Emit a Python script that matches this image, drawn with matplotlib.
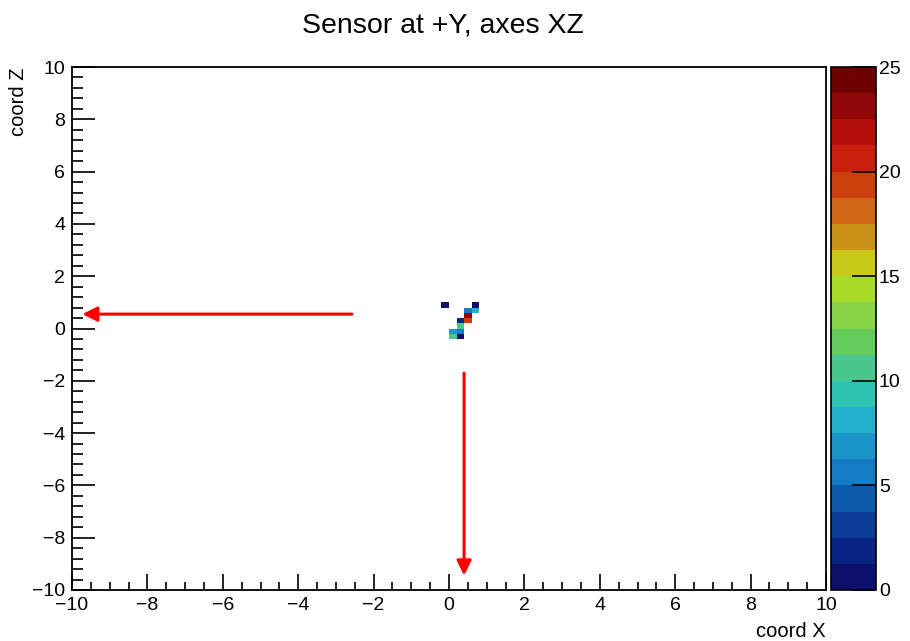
import numpy as np
import matplotlib
matplotlib.use("Agg")
import matplotlib.pyplot as plt
from matplotlib.colors import ListedColormap, BoundaryNorm
from matplotlib.ticker import MultipleLocator

plt.rcParams['font.family'] = ['Liberation Sans', 'DejaVu Sans']

# Filled bins of the XZ hit map (bin centres and counts)
bin_x = [-0.1, 0.7, 0.5, 0.7, 0.5, 0.3, 0.5, 0.3, 0.1, 0.3, 0.1, 0.3]
bin_z = [0.9, 0.9, 0.7, 0.7, 0.5, 0.3, 0.3, 0.1, -0.1, -0.1, -0.3, -0.3]
counts = [1, 1, 6, 8, 23, 2, 19, 10.5, 7, 5.5, 10.5, 1]

n_bins = 100
x_range = (-10, 10)
z_range = (-10, 10)
z_max = 25
n_levels = 20
cbar_ticks = [0, 5, 10, 15, 20, 25]

# Rainbow palette, 20 contour levels (low to high)
palette = ["#0a106c", "#0a2484", "#0a3c98", "#0e5aaa", "#147cc4",
           "#1c96c8", "#22b0cc", "#2ec4b4", "#48c88c", "#64cc5c",
           "#88d444", "#a8dc28", "#c8c818", "#cc9216", "#d06614",
           "#cc4010", "#c8200c", "#b40e0a", "#920808", "#6e0000"]
cmap = ListedColormap(palette)
bounds = np.linspace(0, z_max, n_levels + 1)
norm = BoundaryNorm(bounds, cmap.N)

H, xe, ze = np.histogram2d(bin_x, bin_z, bins=n_bins, range=[x_range, z_range], weights=counts)
H = np.ma.masked_equal(H, 0)

fig = plt.figure(figsize=(9.1, 6.41), dpi=100)
ax = fig.add_axes([72 / 910, 1 - 590 / 641, (826 - 72) / 910, (590 - 67) / 641])
cax = fig.add_axes([831 / 910, 1 - 590 / 641, (876 - 831) / 910, (590 - 67) / 641])

mesh = ax.pcolormesh(xe, ze, H.T, cmap=cmap, norm=norm)
ax.set_xlim(*x_range)
ax.set_ylim(*z_range)

ax.xaxis.set_major_locator(MultipleLocator(2))
ax.xaxis.set_minor_locator(MultipleLocator(0.5))
ax.yaxis.set_major_locator(MultipleLocator(2))
ax.yaxis.set_minor_locator(MultipleLocator(0.4))
ax.tick_params(axis='x', which='major', direction='in', length=11.5, width=1.2,
               labelsize=14, pad=5, top=False)
ax.tick_params(axis='x', which='minor', direction='in', length=5.8, width=1.2, top=False)
ax.tick_params(axis='y', which='major', direction='in', length=16.5, width=1.2,
               labelsize=14, pad=5, right=False)
ax.tick_params(axis='y', which='minor', direction='in', length=8, width=1.2, right=False)
for s in ax.spines.values():
    s.set_linewidth(1.3)

ax.set_xlabel("coord X", fontsize=14.5, loc='right', labelpad=6)
ax.set_ylabel("coord Z", fontsize=14.5, loc='top')
ax.yaxis.set_label_coords(-0.058, 1.0)

fig.text(443 / 910, 1 - 26 / 641, "Sensor at +Y, axes XZ", ha='center', va='center', fontsize=20.5)

# Colour scale
cb = fig.colorbar(mesh, cax=cax, boundaries=bounds)
cb.set_ticks(cbar_ticks)
cb.ax.tick_params(direction='in', length=17, width=1.2, labelsize=14, pad=2,
                  right=True, left=False)
cb.ax.minorticks_off()
cb.outline.set_linewidth(1.2)

# Projection arrows
arrow_style = dict(arrowstyle='-|>', color='red', lw=2.2, mutation_scale=22)
ax.annotate("", xy=(-9.8, 0.55), xytext=(-2.5, 0.55), arrowprops=arrow_style)
ax.annotate("", xy=(0.4, -9.55), xytext=(0.4, -1.6), arrowprops=arrow_style)

fig.savefig("out.png", dpi=100)
